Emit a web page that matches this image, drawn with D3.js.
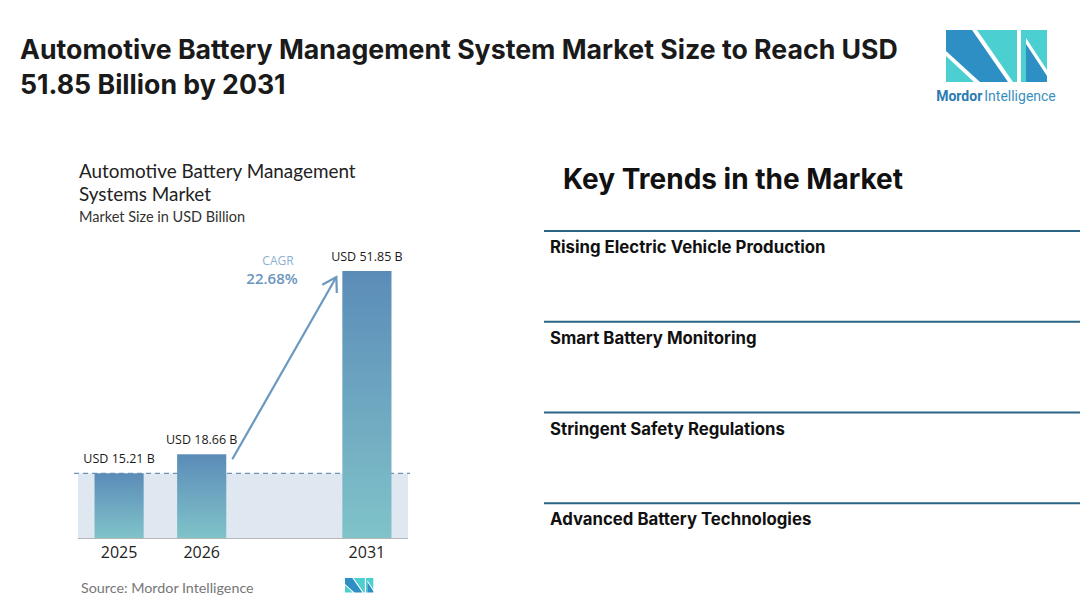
<!DOCTYPE html>
<html>
<head>
<meta charset="utf-8">
<script src="https://cdn.jsdelivr.net/npm/d3@7"></script>
<style>
  html, body { margin: 0; padding: 0; background: #fff; }
  svg { display: block; }
</style>
</head>
<body>
<script>
// chart data
const years = ["2025", "2026", "2031"];
const slots = ["2025", "2026", "gap", "2031"];   // empty slot between 2026 and 2031
const values = [15.21, 18.66, 51.85];
const valueLabels = ["USD 15.21 B", "USD 18.66 B", "USD 51.85 B"];
const cagr = "22.68%";
const trends = [
  "Rising Electric Vehicle Production",
  "Smart Battery Monitoring",
  "Stringent Safety Regulations",
  "Advanced Battery Technologies"
];

const width = 1080, height = 605;
const svg = d3.select("body").append("svg")
  .attr("width", width).attr("height", height);

const defs = svg.append("defs");
const grad = defs.append("linearGradient")
  .attr("id", "barGrad").attr("x1", 0).attr("y1", 0).attr("x2", 0).attr("y2", 1);
grad.append("stop").attr("offset", "0%").attr("stop-color", "#5b8cb8");
grad.append("stop").attr("offset", "100%").attr("stop-color", "#80c3c9");

// main title
svg.append("text")
  .attr("x", 20).attr("y", 59)
  .style("font-family", "Inter").style("font-weight", 700).style("font-size", "26.7px")
  .attr("fill", "#1a1a1a")
  .text("Automotive Battery Management System Market Size to Reach USD");
svg.append("text")
  .attr("x", 20).attr("y", 94)
  .style("font-family", "Inter").style("font-weight", 700).style("font-size", "26.7px")
  .attr("fill", "#1a1a1a")
  .text("51.85 Billion by 2031");

// logo (top right)
function logo(g, s) {
  const dark = "#2e8fc4", light = "#4ccfd0";
  const shapes = [
    { c: dark, p: [[0, 0], [26, 0], [62, 52], [34, 52], [0, 21]] },
    { c: light, p: [[0, 26], [0, 52], [28, 52]] },
    { c: light, p: [[31, 0], [71, 0], [71, 52], [67, 52]] },
    { c: light, p: [[75, 0], [101, 0], [101, 40], [80, 8], [80, 52], [75, 52]] },
    { c: dark, p: [[80, 14], [101, 46], [101, 52], [80, 52]] }
  ];
  g.selectAll("polygon").data(shapes).enter().append("polygon")
    .attr("points", d => d.p.map(q => [q[0] * s, q[1] * s].join(",")).join(" "))
    .attr("fill", d => d.c);
}
const lg = svg.append("g").attr("transform", "translate(946,30)");
logo(lg, 1);
const lt = svg.append("text").attr("x", 996).attr("y", 101).attr("text-anchor", "middle")
  .style("font-family", "Roboto").style("font-size", "14px");
lt.append("tspan").attr("fill", "#2a7bb0").style("font-weight", 700).text("Mordor");
lt.append("tspan").attr("fill", "#3a8fc0").attr("dx", 2).text("Intelligence");

// chart headings
const chartFont = "Lato";
svg.append("text").attr("x", 79).attr("y", 178)
  .style("font-family", chartFont).style("font-size", "18.9px").attr("fill", "#222")
  .text("Automotive Battery Management");
svg.append("text").attr("x", 79).attr("y", 201)
  .style("font-family", chartFont).style("font-size", "18.9px").attr("fill", "#222")
  .text("Systems Market");
svg.append("text").attr("x", 79).attr("y", 222)
  .style("font-family", chartFont).style("font-size", "14.5px").attr("fill", "#333")
  .text("Market Size in USD Billion");

// scales
const x = d3.scaleBand().domain(slots).range([78, 408])
  .paddingInner(0.405).paddingOuter(0.2);
const y = d3.scaleLinear().domain([3.5, 51.85]).range([538, 271]);

const chart = svg.append("g");

// shaded area under first value + dashed reference
chart.append("rect")
  .attr("x", 78).attr("width", 330)
  .attr("y", y(values[0])).attr("height", y.range()[0] - y(values[0]))
  .attr("fill", "#dfe8f0");
chart.append("line")
  .attr("x1", 74).attr("x2", 410)
  .attr("y1", y(values[0])).attr("y2", y(values[0]))
  .attr("stroke", "#6f93b6").attr("stroke-width", 1.2).attr("stroke-dasharray", "5,4");

// bars
chart.selectAll("rect.bar").data(years).enter().append("rect")
  .attr("class", "bar")
  .attr("x", d => x(d)).attr("width", x.bandwidth())
  .attr("y", (d, i) => y(values[i]))
  .attr("height", (d, i) => y.range()[0] - y(values[i]))
  .attr("fill", "url(#barGrad)");

// baseline
chart.append("line")
  .attr("x1", 78).attr("x2", 408).attr("y1", 538.5).attr("y2", 538.5)
  .attr("stroke", "#b5b5b5").attr("stroke-width", 1.2);

// value labels
chart.selectAll("text.val").data(years).enter().append("text")
  .attr("class", "val")
  .attr("x", d => x(d) + x.bandwidth() / 2)
  .attr("y", (d, i) => y(values[i]) - 10)
  .attr("text-anchor", "middle")
  .style("font-family", "Open Sans").style("font-size", "12.5px").attr("fill", "#1a1a1a")
  .text((d, i) => valueLabels[i]);

// year axis labels
chart.selectAll("text.year").data(years).enter().append("text")
  .attr("class", "year")
  .attr("x", d => x(d) + x.bandwidth() / 2)
  .attr("y", 558)
  .attr("text-anchor", "middle")
  .style("font-family", "Open Sans").style("font-size", "16px").attr("fill", "#222")
  .text(d => d);

// CAGR arrow
const x0 = x("2026") + x.bandwidth() + 6, y0 = y(values[1]) + 5;
const x1 = x("2031") - 6, y1 = y(values[2]) + 6;
const ang = Math.atan2(y1 - y0, x1 - x0);
const ah = 16;
chart.append("line")
  .attr("x1", x0).attr("y1", y0).attr("x2", x1).attr("y2", y1)
  .attr("stroke", "#6b98c0").attr("stroke-width", 2.2);
chart.append("path")
  .attr("d", d3.line()([
    [x1 + ah * Math.cos(ang + Math.PI - 0.55), y1 + ah * Math.sin(ang + Math.PI - 0.55)],
    [x1, y1],
    [x1 + ah * Math.cos(ang + Math.PI + 0.55), y1 + ah * Math.sin(ang + Math.PI + 0.55)]
  ]))
  .attr("fill", "none").attr("stroke", "#6b98c0").attr("stroke-width", 2.2);

chart.append("text").attr("x", 278).attr("y", 265).attr("text-anchor", "middle")
  .style("font-family", "Open Sans").style("font-size", "12px").attr("fill", "#8db0d2")
  .text("CAGR");
chart.append("text").attr("x", 272).attr("y", 284).attr("text-anchor", "middle")
  .style("font-family", "Open Sans").style("font-weight", 600).style("font-size", "15px")
  .attr("fill", "#6a94be")
  .text(cagr);

// source
svg.append("text").attr("x", 81).attr("y", 593)
  .style("font-family", chartFont).style("font-size", "14.3px").attr("fill", "#777")
  .text("Source:  Mordor Intelligence");
logo(svg.append("g").attr("transform", "translate(345,578)"), 0.28);

// key trends panel
svg.append("text").attr("x", 563).attr("y", 189)
  .style("font-family", "Inter").style("font-weight", 700).style("font-size", "28px")
  .attr("fill", "#111")
  .text("Key Trends in the Market");

const tRows = d3.scaleBand().domain(trends).range([231, 594]);
const rows = svg.selectAll("g.trend").data(trends).enter().append("g")
  .attr("class", "trend")
  .attr("transform", d => `translate(0,${tRows(d)})`);
rows.append("line")
  .attr("x1", 544).attr("x2", 1080).attr("y1", 0).attr("y2", 0)
  .attr("stroke", "#2a6585").attr("stroke-width", 2);
rows.append("text")
  .attr("x", 550).attr("y", 22)
  .style("font-family", "Inter").style("font-weight", 700).style("font-size", "16.8px")
  .attr("fill", "#111")
  .text(d => d);
</script>
</body>
</html>
